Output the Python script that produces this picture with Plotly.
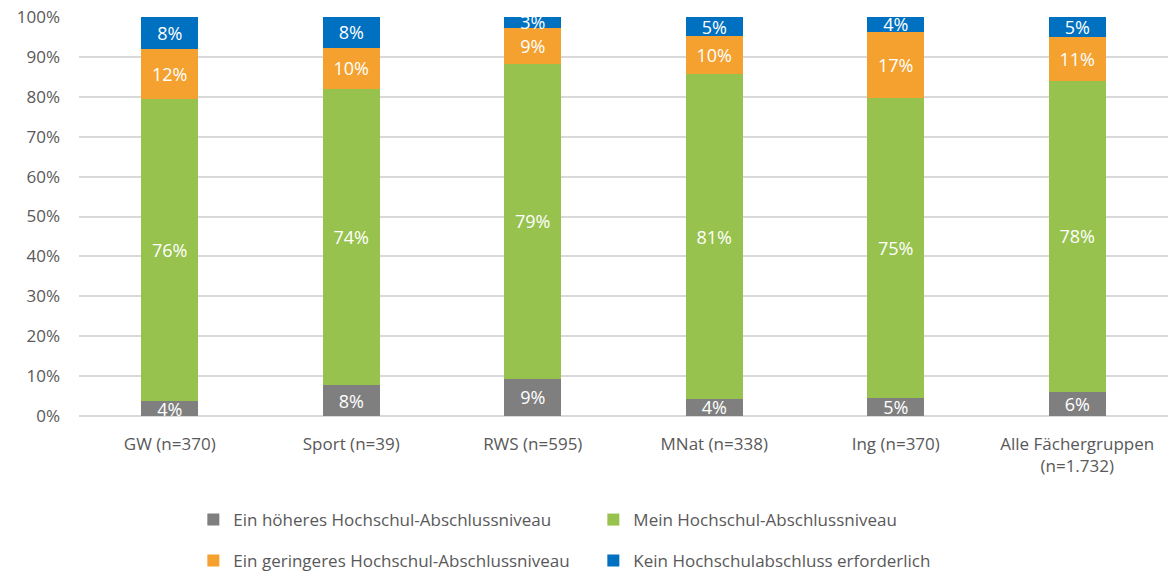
import plotly.graph_objects as go

categories = ["GW (n=370)", "Sport (n=39)", "RWS (n=595)", "MNat (n=338)", "Ing (n=370)",
              "Alle Fächergruppen<br>(n=1.732)"]
hoeher = [3.7, 7.7, 9.3, 4.3, 4.6, 6.0]
mein = [75.8, 74.3, 78.9, 81.3, 75.1, 78.0]
geringer = [12.4, 10.3, 9.1, 9.6, 16.6, 11.0]
kein = [8.1, 7.7, 2.7, 4.8, 3.7, 5.0]

series = [
    ("Ein höheres Hochschul-Abschlussniveau", hoeher, "#7F7F7F", "legend"),
    ("Mein Hochschul-Abschlussniveau", mein, "#97C24E", "legend"),
    ("Ein geringeres Hochschul-Abschlussniveau", geringer, "#F4A12F", "legend2"),
    ("Kein Hochschulabschluss erforderlich", kein, "#0070C0", "legend2"),
]

FONT = "Open Sans"
fig = go.Figure()
for name, vals, color, lg in series:
    fig.add_trace(go.Bar(
        x=categories, y=vals, name=name, marker=dict(color=color, line=dict(width=0)),
        texttemplate="%{y:.0f}%", textposition="inside", insidetextanchor="middle",
        constraintext="none", cliponaxis=False,
        textfont=dict(color="white", size=18, family=FONT), legend=lg,
    ))

leg_common = dict(orientation="h", xanchor="left", yanchor="middle", traceorder="normal",
                  entrywidth=355, font=dict(size=17, color="#595959"),
                  bgcolor="rgba(0,0,0,0)")

fig.update_layout(
    barmode="stack", bargap=0.686,
    width=1168, height=571,
    margin=dict(l=79, r=0, t=17, b=155, autoexpand=False),
    plot_bgcolor="white", paper_bgcolor="white",
    font=dict(family=FONT, color="#595959", size=17),
    uniformtext=dict(minsize=18, mode="show"),
    yaxis=dict(range=[0, 100], dtick=10, ticksuffix="%", showgrid=True, automargin=False,
               ticklabeloverflow="allow",
               gridcolor="#D9D9D9", gridwidth=1.5, zeroline=True, zerolinecolor="#D9D9D9",
               zerolinewidth=1.5, ticklabelstandoff=18, tickfont=dict(size=17, color="#595959")),
    xaxis=dict(showline=False, automargin=False, ticklabelstandoff=16,
               ticklabeloverflow="allow",
               tickfont=dict(size=17, color="#595959")),
    legend=dict(x=0.105, y=-0.2607, **leg_common),
    legend2=dict(x=0.105, y=-0.363, **leg_common),
    showlegend=True,
)

fig.write_html("out.html", config={"displayModeBar": False},
               post_script="document.body.style.margin='0';")
